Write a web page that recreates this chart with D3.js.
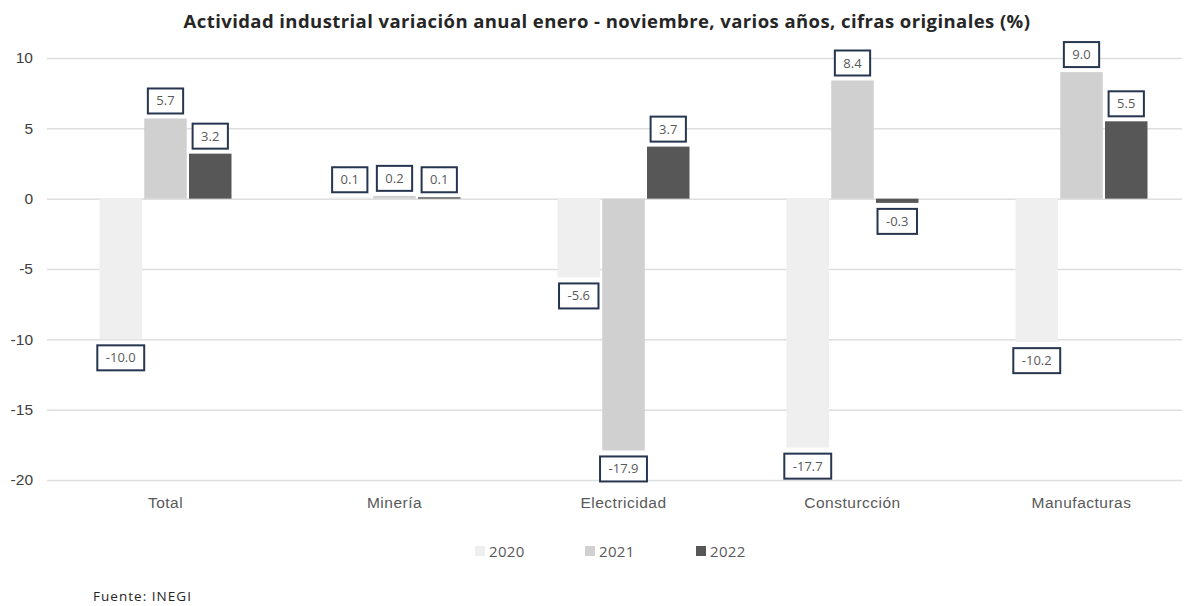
<!DOCTYPE html>
<html>
<head>
<meta charset="utf-8">
<script src="https://cdn.jsdelivr.net/npm/d3@7"></script>
<style>
  body { margin: 0; background: #fff; }
  svg { font-family: "Open Sans", "Noto Sans", sans-serif; }
</style>
</head>
<body>
<div id="chart"></div>
<script>
// data
const categories = ["Total", "Minería", "Electricidad", "Consturcción", "Manufacturas"];
const years = ["2020", "2021", "2022"];
const values2020 = [-10.0, 0.1, -5.6, -17.7, -10.2];
const values2021 = [5.7, 0.2, -17.9, 8.4, 9.0];
const values2022 = [3.2, 0.1, 3.7, -0.3, 5.5];
const yTicks = [-20, -15, -10, -5, 0, 5, 10];

const seriesValues = { "2020": values2020, "2021": values2021, "2022": values2022 };
const colors = { "2020": "#efefef", "2021": "#d0d0d0", "2022": "#575757" };

const width = 1190, height = 606;

const svg = d3.select("#chart").append("svg")
  .attr("width", width)
  .attr("height", height);

const x0 = d3.scaleBand()
  .domain(categories)
  .range([51, 1196]);

const x1 = d3.scaleBand()
  .domain(years)
  .range([x0.bandwidth() / 2 - 66, x0.bandwidth() / 2 + 66])
  .paddingInner(0.05);

const y = d3.scaleLinear()
  .domain([-20, 10])
  .range([480, 58]);

// stretch a text to a target width via letter spacing
function fitWidth(sel, target) {
  const n = sel.text().length;
  const w = sel.node().getComputedTextLength();
  sel.attr("letter-spacing", ((target - w) / n).toFixed(2));
}

// title
const title = svg.append("text")
  .attr("x", 607)
  .attr("y", 28)
  .attr("text-anchor", "middle")
  .attr("font-size", 18.5)
  .attr("font-weight", "bold")
  .attr("fill", "#262626")
  .text("Actividad industrial variación anual enero - noviembre, varios años, cifras originales (%)");
fitWidth(title, 847);

// gridlines + y labels
const yAxis = svg.append("g")
  .attr("transform", "translate(47,0)")
  .call(d3.axisLeft(y).tickValues(yTicks).tickSize(-1135).tickPadding(14).tickFormat(d => String(d)));
yAxis.select(".domain").remove();
yAxis.selectAll(".tick line").attr("stroke", "#dedede").attr("stroke-width", 1.5);
yAxis.selectAll(".tick text").attr("fill", "#404040").attr("font-size", 15.5);

// x labels
const xAxis = svg.append("g")
  .attr("transform", "translate(0,480)")
  .call(d3.axisBottom(x0).tickSize(0).tickPadding(17));
xAxis.select(".domain").remove();
xAxis.selectAll(".tick text")
  .attr("fill", "#595959")
  .attr("font-size", 15.5)
  .attr("letter-spacing", 0.5);

// bars
const rows = categories.map((c, i) => ({
  category: c,
  items: years.map(yr => ({ year: yr, value: seriesValues[yr][i] }))
}));

const groups = svg.append("g")
  .selectAll("g")
  .data(rows)
  .join("g")
  .attr("transform", d => `translate(${x0(d.category)},0)`);

groups.selectAll("rect")
  .data(d => d.items)
  .join("rect")
  .attr("x", d => x1(d.year))
  .attr("width", x1.bandwidth())
  .attr("y", d => y(Math.max(0, d.value)))
  .attr("height", d => Math.abs(y(d.value) - y(0)))
  .attr("fill", d => colors[d.year]);

// data labels in boxes
const labels = groups.selectAll("g.lbl")
  .data(d => d.items)
  .join("g")
  .attr("class", "lbl");

labels.each(function (d) {
  const g = d3.select(this);
  const cx = x1(d.year) + x1.bandwidth() / 2;
  const boxH = 25;
  const top = d.value >= 0 ? y(d.value) - 5 - boxH : y(d.value) + 6;
  const t = g.append("text")
    .attr("x", cx)
    .attr("y", top + boxH / 2 + 4.5)
    .attr("text-anchor", "middle")
    .attr("font-size", 13)
    .attr("fill", "#595959")
    .text(d.value.toFixed(1));
  const w = t.node().getComputedTextLength() + 17;
  g.insert("rect", "text")
    .attr("x", cx - w / 2)
    .attr("y", top)
    .attr("width", w)
    .attr("height", boxH)
    .attr("fill", "#fff")
    .attr("stroke", "#263550")
    .attr("stroke-width", 2);
});

// legend
const legendX = [475, 585, 696];
const legend = svg.append("g")
  .selectAll("g")
  .data(years)
  .join("g")
  .attr("transform", (d, i) => `translate(${legendX[i]},551)`);
legend.append("rect")
  .attr("x", 0).attr("y", -5)
  .attr("width", 10).attr("height", 10)
  .attr("fill", d => colors[d]);
legend.append("text")
  .attr("x", 14).attr("y", 5.5)
  .attr("font-size", 15)
  .attr("letter-spacing", 0.3)
  .attr("fill", "#595959")
  .text(d => d);

// source
const source = svg.append("text")
  .attr("x", 93).attr("y", 601)
  .attr("font-size", 13.5)
  .attr("fill", "#262626")
  .text("Fuente: INEGI");
fitWidth(source, 99);
</script>
</body>
</html>
